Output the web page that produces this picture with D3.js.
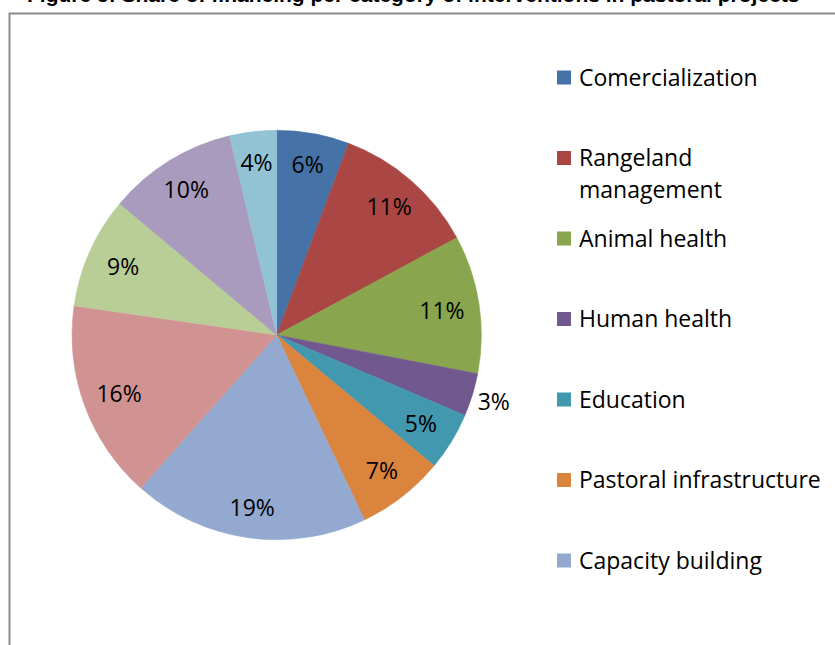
<!DOCTYPE html>
<html>
<head>
<meta charset="utf-8">
<script src="https://cdn.jsdelivr.net/npm/d3@7"></script>
<style>
  html, body { margin: 0; padding: 0; background: #ffffff; }
  svg { display: block; }
</style>
</head>
<body>
<div id="chart"></div>
<script>
// ---- data ----
const titleText = "Figure 5: Share of financing per category of interventions in pastoral projects";
const categories = [
  "Comercialization", "Rangeland management", "Animal health", "Human health",
  "Education", "Pastoral infrastructure", "Capacity building",
  "Other category 1", "Other category 2", "Other category 3", "Other category 4"
];
const values = [5.7, 11.4, 10.9, 3.4, 4.6, 6.9, 18.6, 15.7, 8.8, 10.2, 3.7];
const colors = [
  "#4572A7", "#AA4643", "#89A54E", "#71588F", "#4198AF", "#DB843D",
  "#93A9CF", "#D19392", "#B9CD96", "#A99BBD", "#91C3D5"
];
const legendLines = [
  ["Comercialization"], ["Rangeland", "management"], ["Animal health"], ["Human health"],
  ["Education"], ["Pastoral infrastructure"], ["Capacity building"]
];
const outsideLabel = [false, false, false, true, false, false, false, false, false, false, false];

// ---- layout ----
const W = 835, H = 645;
const cx = 276.7, cy = 335, R = 204.7;
const font = "'Open Sans', sans-serif";

const svg = d3.select("#chart").append("svg")
  .attr("width", W).attr("height", H);

// chart frame (extends past the crop)
svg.append("rect")
  .attr("x", 9.5).attr("y", 13.5)
  .attr("width", 900).attr("height", 700)
  .attr("fill", "none").attr("stroke", "#8c8c8c").attr("stroke-width", 2);

// title, cropped at the top edge as in the reference
svg.append("text")
  .attr("x", 27).attr("y", 2)
  .attr("font-family", "'Liberation Sans', Arial, sans-serif")
  .attr("font-weight", "bold")
  .attr("font-size", 21)
  .attr("fill", "#000")
  .text(titleText);

const data = categories.map((c, i) => ({ name: c, value: values[i], color: colors[i], outside: outsideLabel[i] }));
const total = d3.sum(values);

const pie = d3.pie().value(d => d.value).sort(null);
const arcs = pie(data);
const arc = d3.arc().innerRadius(0).outerRadius(R);

const g = svg.append("g").attr("transform", `translate(${cx},${cy})`);

g.selectAll("path.slice").data(arcs).join("path")
  .attr("class", "slice")
  .attr("d", arc)
  .attr("fill", d => d.data.color)
  .attr("stroke", d => d.data.color)
  .attr("stroke-width", 0.5);

function labelPos(d) {
  const a = (d.startAngle + d.endAngle) / 2;
  const c = Math.cos(a);
  const r = d.data.outside ? 227 : 167 + 7 * c * c;
  return d3.arc().innerRadius(r).outerRadius(r).centroid({ startAngle: a, endAngle: a });
}

g.selectAll("text.lbl").data(arcs).join("text")
  .attr("class", "lbl")
  .attr("transform", d => {
    const p = labelPos(d);
    return `translate(${p[0]},${p[1] + 9})`;
  })
  .attr("text-anchor", "middle")
  .attr("font-family", font)
  .attr("font-size", 23)
  .attr("fill", "#000")
  .text(d => Math.round(d.data.value / total * 100) + "%");

// legend (only the entries that fit, as in the reference)
const legend = svg.append("g");
const legendY = d3.scaleLinear().domain([0, 1]).range([85.5, 166]);
legendLines.forEach((lines, i) => {
  const y = legendY(i);
  legend.append("rect")
    .attr("x", 557).attr("y", y - 15)
    .attr("width", 14).attr("height", 14)
    .attr("fill", colors[i]);
  const t = legend.append("text")
    .attr("x", 579).attr("y", y)
    .attr("font-family", font)
    .attr("font-size", 23)
    .attr("fill", "#000");
  lines.forEach((ln, j) => {
    t.append("tspan").attr("x", 579).attr("y", y + j * 32).text(ln);
  });
});
</script>
</body>
</html>
